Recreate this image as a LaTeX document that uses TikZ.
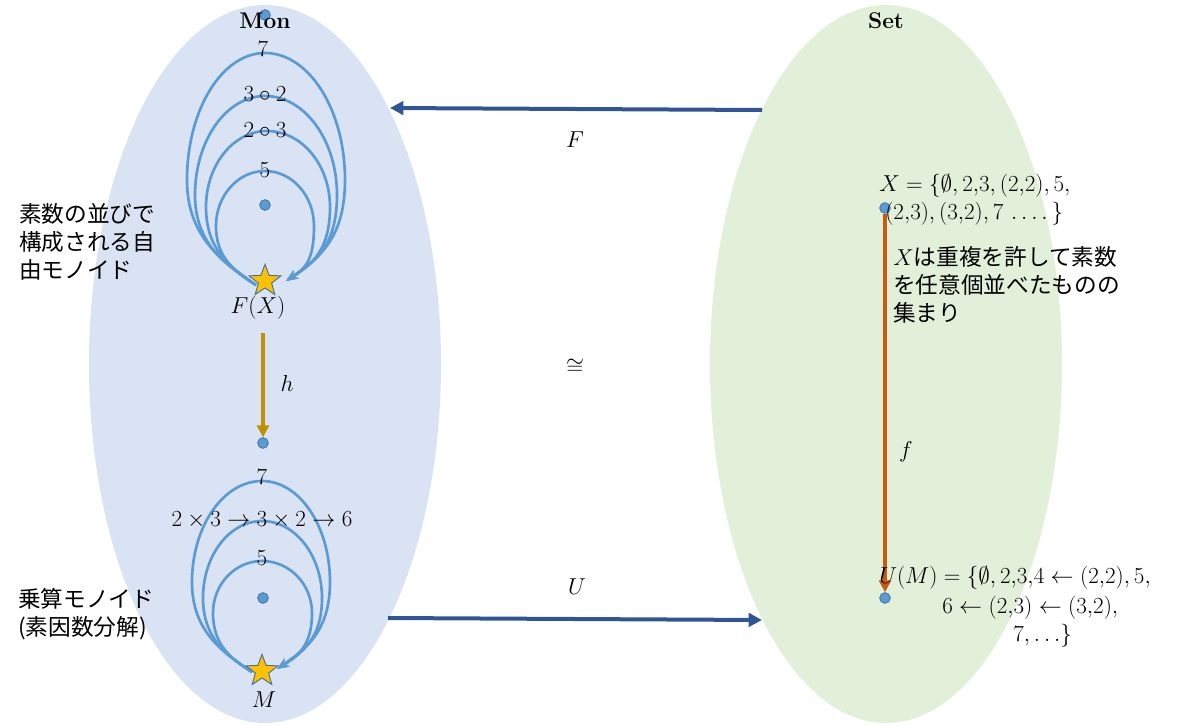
\documentclass[tikz,border=0pt]{standalone}
\usepackage{fontspec}
\usetikzlibrary{arrows.meta,shapes.geometric}
\newfontfamily\jp{Noto Sans CJK JP}
\definecolor{monfill}{HTML}{DAE3F3}
\definecolor{setfill}{HTML}{E2F0D9}
\definecolor{darrow}{HTML}{2F5597}
\definecolor{loopc}{HTML}{5B9BD5}
\definecolor{dotline}{HTML}{41719C}
\definecolor{harrow}{HTML}{BF9000}
\definecolor{farrow}{HTML}{C55A11}
\definecolor{starc}{HTML}{FFC000}
% #1 start, #2 end, #3 left x, #4 right x, #5 apex y, #6 mid y, #7 centre x, #8 start y
\newcommand\monloop[8]{%
 \pgfmathsetmacro\kv{0.552*(#6-#5)}%
 \pgfmathsetmacro\kl{0.552*(#7-#3)}%
 \pgfmathsetmacro\kr{0.552*(#4-#7)}%
 \pgfmathsetmacro\cl{0.55*(#8-#6)}%
 \pgfmathsetmacro\vs{0.22*(#8-#6)}%
 \pgfmathsetmacro\hl{0.42*(#7-#3)}%
 \pgfmathsetmacro\hr{0.42*(#4-#7)}%
 \draw[loopline] (#1) .. controls +(-\hl,-\vs) and +(0,\cl) .. (#3,#6) .. controls +(0,-\kv) and +(-\kl,0) .. (#7,#5) .. controls +(\kr,0) and +(0,-\kv) .. (#4,#6) .. controls +(0,\cl) and +(\hr,-\vs) .. (#2);}
\begin{document}
\begin{tikzpicture}[x=0.75pt,y=-0.75pt,font=\fontsize{17.5}{21}\selectfont,
  dotn/.style={circle,fill=loopc,draw=dotline,line width=0.6pt,inner sep=0pt,minimum size=8pt},
  starn/.style={star,star points=5,star point ratio=2.4,fill=starc,draw=dotline,line width=0.7pt,inner sep=0pt,minimum size=25pt},
  loopline/.style={draw=loopc,line width=2pt,-{Stealth[length=9pt,width=7pt]}},
  funct/.style={draw=darrow,line width=3pt,-{Triangle[length=10pt,width=10pt]}},
  jptext/.style={font=\jp\fontsize{17}{21}\selectfont,align=left,inner sep=0pt},
  mtext/.style={inner sep=0pt}]
\useasboundingbox (0,0) rectangle (1200,725);
% ellipses
\fill[monfill] (265,364) ellipse [x radius=176, y radius=359];
\fill[setfill] (886,364) ellipse [x radius=176, y radius=359];
% top dot and titles
\node[dotn] (mondot) at (265,15) {};
\node[font=\bfseries\fontsize{17}{20}\selectfont] (mon) at (265,21) {Mon};
\node[font=\bfseries\fontsize{17}{20}\selectfont] (set) at (886,21) {Set};
% upper free monoid
\node[dotn] (fxdot) at (265,205) {};
\coordinate (ts) at (256,285);
\coordinate (te) at (286,281);
\monloop{ts}{te}{187}{345}{53}{180}{265}{285}
\monloop{ts}{te}{195}{337}{96}{195}{265}{285}
\monloop{ts}{te}{206}{330}{131}{207}{267}{285}
\monloop{ts}{te}{216}{314}{171}{226}{265}{285}
\node[starn] (fx) at (265,281) {};
\node[mtext] (l7) at (263,49) {$7$};
\node[mtext] (l32) at (265,94) {$3\circ2$};
\node[mtext] (l23) at (265,130) {$2\circ3$};
\node[mtext] (l5) at (265,170) {$5$};
\node[mtext] (fxl) at (258,308) {$F(X)$};
% h
\node[dotn] (hdot) at (263,443) {};
\draw[draw=harrow,line width=2.8pt,-{Triangle[length=9pt,width=9pt]}] (263,333) -- (hdot.north);
\node[mtext] (hl) at (287,383) {$h$};
% lower monoid
\node[dotn] (mdot) at (263,598) {};
\coordinate (bs) at (252,672);
\coordinate (be) at (277,669);
\monloop{bs}{be}{192}{330}{481}{582}{262}{672}
\monloop{bs}{be}{203}{322}{521}{598}{262}{672}
\monloop{bs}{be}{213}{312}{561}{613}{262}{672}
\node[starn] (mst) at (262,671) {};
\node[mtext] (b7) at (262,477) {$7$};
\node[mtext] (b236) at (262,520) {$2\times3\to3\times2\to6$};
\node[mtext] (b5) at (262,558) {$5$};
\node[mtext] (ml) at (264,700) {$M$};
% left texts
\node[jptext,anchor=north west] (t1) at (19,203) {素数の並びで\\構成される自\\由モノイド};
\node[jptext,anchor=north west] (t2) at (18,588) {乗算モノイド\\(素因数分解)};
% functors
\coordinate (fs) at (762,110);
\coordinate (fe) at (390,108);
\draw[funct] (fs) -- (fe);
\node[mtext] (flab) at (575,140) {$F$};
\coordinate (us) at (388,618);
\coordinate (ue) at (762,620);
\draw[funct] (us) -- (ue);
\node[mtext] (ulab) at (577,587) {$U$};
\node[mtext] (iso) at (575,367) {$\cong$};
% right side
\node[dotn] (xdot) at (885,208) {};
\node[dotn] (umdot) at (885,598) {};
\draw[draw=farrow,line width=2.8pt,-{Triangle[length=9pt,width=9pt]}] (xdot.south) -- (umdot.north);
\node[mtext,anchor=west] (xs1) at (879,186) {$X=\{\emptyset,2{,}3,(2{,}2),5,$};
\node[mtext,anchor=west] (xs2) at (885,214) {$(2{,}3),(3{,}2),7\,\ldots.\,\}$};
\node[jptext,anchor=north west] (xt) at (893,246) {$X$は重複を許して素数\\を任意個並べたものの\\集まり};
\node[mtext] (flb) at (906,452) {$f$};
\node[mtext,anchor=west] (um1) at (879,578) {$U(M)=\{\emptyset,2{,}3{,}4\leftarrow(2{,}2),5,$};
\node[mtext,anchor=west] (um2) at (942,608) {$6\leftarrow(2{,}3)\leftarrow(3{,}2),$};
\node[mtext,anchor=west] (um3) at (1013,636) {$7,\ldots\}$};
\end{tikzpicture}
\end{document}
